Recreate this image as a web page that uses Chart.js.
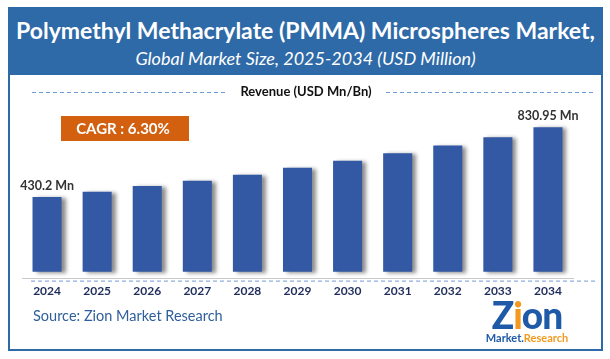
<!DOCTYPE html>
<html>
<head>
<meta charset="utf-8">
<script src="https://cdn.jsdelivr.net/npm/chart.js@4"></script>
<style>
  html, body { margin: 0; padding: 0; background: #ffffff; }
  body { width: 610px; height: 359px; position: relative; overflow: hidden; font-family: Lato, "Open Sans", sans-serif; }
  #frame { position: absolute; left: 8px; top: 7px; width: 591px; height: 340px; border: 2px solid #2e6aa8; box-sizing: content-box; }
  #header { position: absolute; left: 8px; top: 7px; width: 595px; height: 68px; background: #2e6aa8; color: #fff; text-align: center; }
  #t1 { position: absolute; left: 0; right: 0; top: 9px; font-size: 23px; font-weight: bold; white-space: nowrap; }
  #t2 { position: absolute; left: 0; right: 0; top: 40px; font-size: 18px; font-style: italic; white-space: nowrap; }
  #wrap { position: absolute; left: 0; top: 0; width: 610px; height: 359px; }
  #src { position: absolute; left: 33px; top: 307px; font-size: 14.5px; color: #2e5f9c; white-space: nowrap; }
  #logo { position: absolute; left: 484px; top: 297px; width: 86px; text-align: center; }
  #zion { font-size: 37px; font-weight: 900; color: #1e5aa8; line-height: 35px; letter-spacing: -1px; }
  #mr { font-size: 11px; font-weight: bold; line-height: 12px; white-space: nowrap; }
</style>
</head>
<body>
<div id="wrap"><canvas id="c" width="610" height="359"></canvas></div>
<div id="frame"></div>
<div id="header">
  <div id="t1">Polymethyl Methacrylate (PMMA) Microspheres Market,</div>
  <div id="t2">Global Market Size, 2025-2034 (USD Million)</div>
</div>
<div id="src">Source: Zion Market Research</div>
<div id="logo">
  <div id="zion"><span style="color:#1e5aa8">Z</span><span style="color:#f29a1f">i</span>on</div>
  <div id="mr"><span style="color:#1e5aa8">Market.</span><span style="color:#f29a1f">Research</span></div>
</div>
<script>
const years = ["2024","2025","2026","2027","2028","2029","2030","2031","2032","2033","2034"];
const revenue = [430.2, 460.7, 493.5, 523.8, 557.8, 598.5, 639.2, 681.7, 726.0, 774.6, 830.95];
const valueLabels = ["430.2 Mn", "", "", "", "", "", "", "", "", "", "830.95 Mn"];
const legendLabel = "Revenue (USD Mn/Bn)";
const cagrLabel = "CAGR : 6.30%";

const decor = {
  id: 'decor',
  beforeDatasetsDraw(chart) {
    const ctx = chart.ctx;
    ctx.save();
    ctx.shadowColor = 'rgba(0,0,0,0.45)';
    ctx.shadowOffsetX = 4;
    ctx.shadowOffsetY = 1;
    ctx.shadowBlur = 4;
  },
  afterDatasetsDraw(chart) {
    chart.ctx.restore();
  },
  afterDraw(chart) {
    const ctx = chart.ctx;
    const area = chart.chartArea;
    const meta = chart.getDatasetMeta(0);
    ctx.save();
    ctx.font = 'bold 12.5px Lato, "Open Sans", sans-serif';
    ctx.fillStyle = '#333333';
    ctx.textAlign = 'center';
    ctx.textBaseline = 'bottom';
    meta.data.forEach((bar, i) => {
      if (valueLabels[i]) ctx.fillText(valueLabels[i], bar.x, bar.y - 5);
    });
    ctx.font = 'bold 13px Lato, "Open Sans", sans-serif';
    ctx.fillStyle = '#111111';
    ctx.textBaseline = 'middle';
    ctx.fillText(legendLabel, 306, 92);
    ctx.strokeStyle = '#6f9bd6';
    ctx.lineWidth = 1;
    ctx.setLineDash([4, 3]);
    ctx.beginPath();
    ctx.moveTo(32, 92.5); ctx.lineTo(227, 92.5);
    ctx.moveTo(386, 92.5); ctx.lineTo(596, 92.5);
    ctx.moveTo(31, area.bottom + 2.5); ctx.lineTo(598, area.bottom + 2.5);
    ctx.stroke();
    ctx.setLineDash([]);
    ctx.fillStyle = '#d2600f';
    ctx.fillRect(61, 116, 128, 25);
    ctx.fillStyle = '#ffffff';
    ctx.font = 'bold 15px Lato, "Open Sans", sans-serif';
    ctx.fillText(cagrLabel, 123, 129);
    ctx.restore();
  }
};

new Chart(document.getElementById('c'), {
  type: 'bar',
  data: {
    labels: years,
    datasets: [{
      data: revenue,
      backgroundColor: '#3358a4',
      borderWidth: 0,
      categoryPercentage: 1.0,
      barPercentage: 0.58
    }]
  },
  options: {
    responsive: false,
    animation: false,
    events: [],
    layout: { padding: { left: 22, right: 37, top: 115, bottom: 56 } },
    plugins: { legend: { display: false }, tooltip: { enabled: false } },
    scales: {
      x: {
        grid: { display: false, drawTicks: false },
        border: { display: true, color: '#c8c8c8', width: 1 },
        ticks: { color: '#1f2d5c', font: { family: 'Lato, "Open Sans", sans-serif', size: 12, weight: 'bold' }, padding: 5 }
      },
      y: { display: false, min: -39, max: 902 }
    }
  },
  plugins: [decor]
});
</script>
</body>
</html>
